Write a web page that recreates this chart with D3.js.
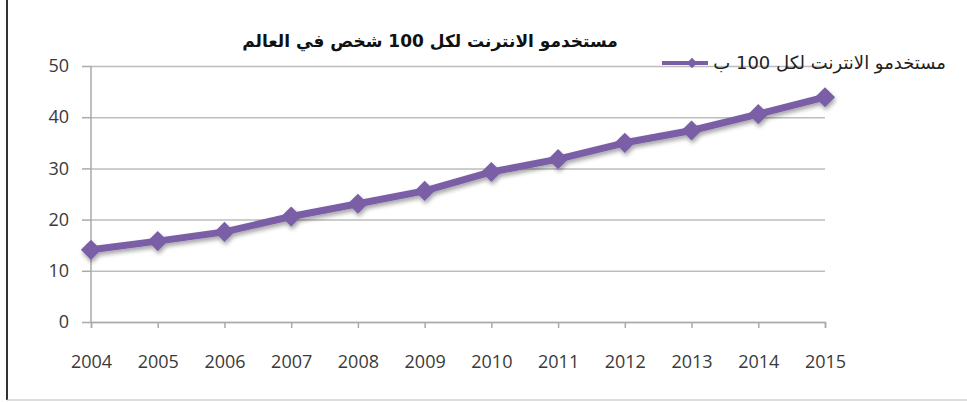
<!DOCTYPE html>
<html>
  <head>
    <meta charset="utf-8">
    <script src="https://cdn.jsdelivr.net/npm/d3@7"></script>
    <style>
      body { margin: 0; background: #fff; }
      svg { display: block; }
    </style>
  </head>
  <body>
    <script>

    // Data
    var years = ["2004", "2005", "2006", "2007", "2008", "2009", "2010", "2011", "2012", "2013", "2014", "2015"];
    var users = [14.1, 15.8, 17.6, 20.6, 23.1, 25.6, 29.3, 31.8, 35.0, 37.4, 40.6, 43.9];
    var yTicks = [0, 10, 20, 30, 40, 50];
    var title = "مستخدمو الانترنت لكل 100 شخص في العالم";
    var legendLabel = "مستخدمو الانترنت لكل 100 ب";

    var W = 967, H = 402;
    var purple = "#7a5ea6";

    var svg = d3.select("body").append("svg")
      .attr("width", W)
      .attr("height", H);

    // drop shadow like the office chart
    var f = svg.append("defs").append("filter").attr("id", "shadow")
      .attr("x", "-20%").attr("y", "-20%").attr("width", "140%").attr("height", "160%");
    f.append("feDropShadow").attr("dx", 1).attr("dy", 3).attr("stdDeviation", 2)
      .attr("flood-color", "#000").attr("flood-opacity", 0.35);

    // frame of the picture
    svg.append("line").attr("x1", 7).attr("x2", 7).attr("y1", 0).attr("y2", 400)
      .attr("stroke", "#333").attr("stroke-width", 2);
    svg.append("line").attr("x1", 7).attr("x2", W).attr("y1", 400).attr("y2", 400)
      .attr("stroke", "#bbb").attr("stroke-width", 1);

    var x = d3.scalePoint().domain(years).range([91, 825]);
    var y = d3.scaleLinear().domain([0, 50]).range([322, 66]);

    // gridlines
    svg.append("g").selectAll("line")
      .data(yTicks).enter().append("line")
        .attr("x1", 91).attr("x2", 825)
        .attr("y1", function(d) { return y(d) + 0.5; })
        .attr("y2", function(d) { return y(d) + 0.5; })
        .attr("stroke", "#bdbdbd").attr("stroke-width", 1.5);

    // axes
    var yAxis = svg.append("g")
      .attr("transform", "translate(91,0)")
      .call(d3.axisLeft(y).tickValues(yTicks).tickSize(9).tickPadding(13));
    var xAxis = svg.append("g")
      .attr("transform", "translate(0,322)")
      .call(d3.axisBottom(x).tickSize(6).tickPadding(27));

    [yAxis, xAxis].forEach(function(a) {
      a.select(".domain").attr("stroke", "#aaa").attr("stroke-width", 1.5);
      a.selectAll(".tick line").attr("stroke", "#aaa").attr("stroke-width", 1.5);
      a.selectAll("text")
        .attr("fill", "#3a3a3a")
        .style("font-family", "'Open Sans', sans-serif")
        .style("font-size", "18px");
    });
    yAxis.select(".domain").attr("d", "M0,322V66");

    // series
    var line = d3.line()
      .x(function(d, i) { return x(years[i]); })
      .y(function(d) { return y(d); });

    var series = svg.append("g").attr("filter", "url(#shadow)");
    series.append("path")
      .datum(users)
      .attr("d", line)
      .attr("fill", "none")
      .attr("stroke", purple)
      .attr("stroke-width", 7)
      .attr("stroke-linejoin", "round");

    var diamond = d3.symbol().type(d3.symbolDiamond2).size(260);
    series.selectAll(".pt")
      .data(users).enter().append("path")
        .attr("class", "pt")
        .attr("d", diamond)
        .attr("transform", function(d, i) { return "translate(" + x(years[i]) + "," + y(d) + ")"; })
        .attr("fill", purple);

    // title
    svg.append("text")
      .attr("x", 430).attr("y", 47)
      .attr("text-anchor", "middle")
      .attr("direction", "rtl")
      .style("font-family", "'DejaVu Sans', sans-serif")
      .style("font-weight", "bold")
      .style("font-size", "17px")
      .attr("fill", "#111")
      .text(title);

    // legend
    var lg = svg.append("g");
    lg.append("line").attr("x1", 662).attr("x2", 708).attr("y1", 63).attr("y2", 63)
      .attr("stroke", purple).attr("stroke-width", 4);
    lg.append("path").attr("d", d3.symbol().type(d3.symbolDiamond2).size(70))
      .attr("transform", "translate(692,63)").attr("fill", purple);
    lg.append("text")
      .attr("x", 946).attr("y", 69)
      .attr("text-anchor", "start")
      .attr("direction", "rtl")
      .style("font-family", "'DejaVu Sans', sans-serif")
      .style("font-size", "18px")
      .attr("fill", "#222")
      .text(legendLabel);

    </script>
  </body>
</html>
